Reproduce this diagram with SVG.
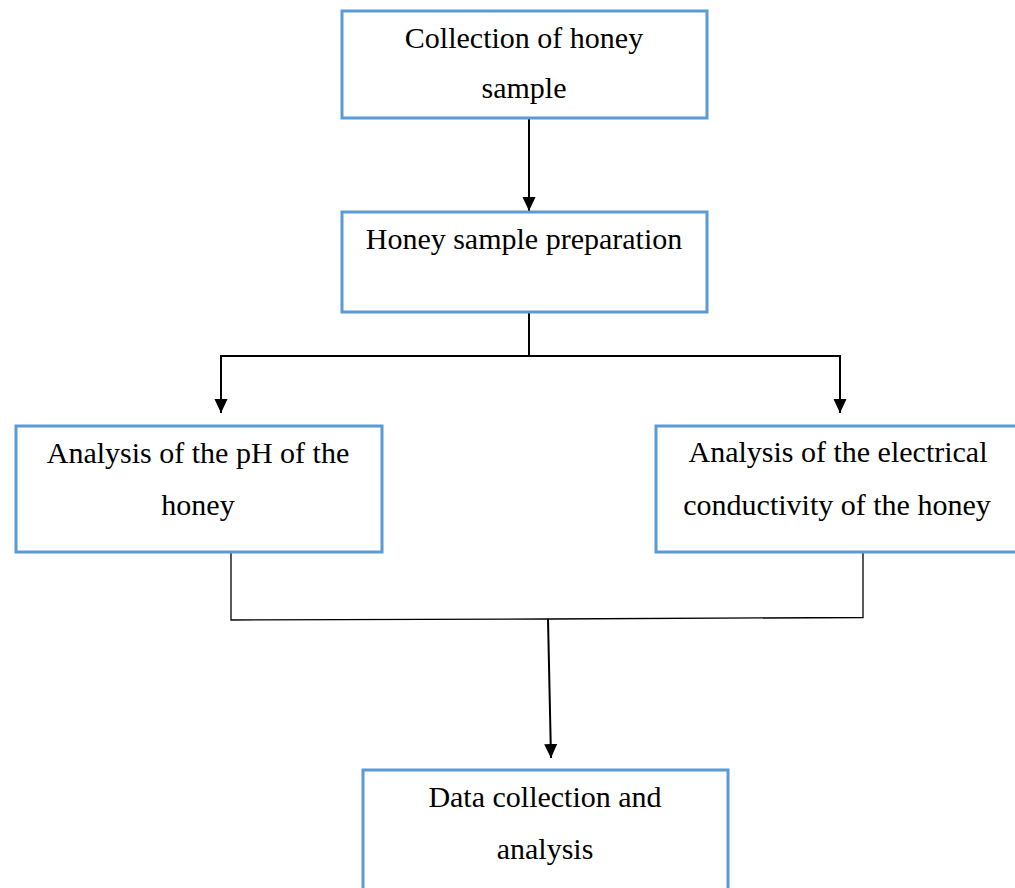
<svg xmlns="http://www.w3.org/2000/svg" width="1015" height="888" viewBox="0 0 1015 888">
<style>
.box{fill:#fff;stroke:#5B9BD5;stroke-width:3}
.t{font-family:"Liberation Serif","Times New Roman",serif;font-size:30px;fill:#000;text-anchor:middle}
.c{stroke:#000;stroke-width:2;fill:none}
.thin{stroke:#000;stroke-width:1.3;fill:none}
</style>
<defs>
<marker id="ah" markerUnits="userSpaceOnUse" markerWidth="14" markerHeight="15" refX="15" refY="7" orient="auto" viewBox="0 0 15 14">
<path d="M0,0 L15,7 L0,14 z" fill="#000"/>
</marker>
</defs>
<rect width="1015" height="888" fill="#fff"/>
<g id="connectors">
<line class="c" x1="529" y1="118" x2="529" y2="211" marker-end="url(#ah)"/>
<polyline class="c" points="529,312 529,356"/>
<polyline class="c" points="221,356 840,356"/>
<line class="c" x1="221" y1="355" x2="221" y2="413" marker-end="url(#ah)"/>
<line class="c" x1="840" y1="355" x2="840" y2="413" marker-end="url(#ah)"/>
<polyline class="thin" points="231,552 231,620 548,619 863,617.5 863,552"/>
<line class="c" x1="548" y1="619" x2="551" y2="758" marker-end="url(#ah)"/>
</g>
<g id="n1">
<rect class="box" x="342" y="11" width="365" height="107"/>
<text class="t" x="524" y="48">Collection of honey</text>
<text class="t" x="524" y="98">sample</text>
</g>
<g id="n2">
<rect class="box" x="342" y="212" width="365" height="100"/>
<text class="t" x="524" y="249">Honey sample preparation</text>
</g>
<g id="n3">
<rect class="box" x="16" y="426" width="366" height="126"/>
<text class="t" x="198" y="463">Analysis of the pH of the</text>
<text class="t" x="198" y="515">honey</text>
</g>
<g id="n4">
<rect class="box" x="656" y="426" width="366" height="126"/>
<text class="t" x="838" y="462">Analysis of the electrical</text>
<text class="t" x="837" y="515">conductivity of the honey</text>
</g>
<g id="n5">
<rect class="box" x="363" y="770" width="365" height="130"/>
<text class="t" x="545" y="807">Data collection and</text>
<text class="t" x="545" y="859">analysis</text>
</g>
</svg>
